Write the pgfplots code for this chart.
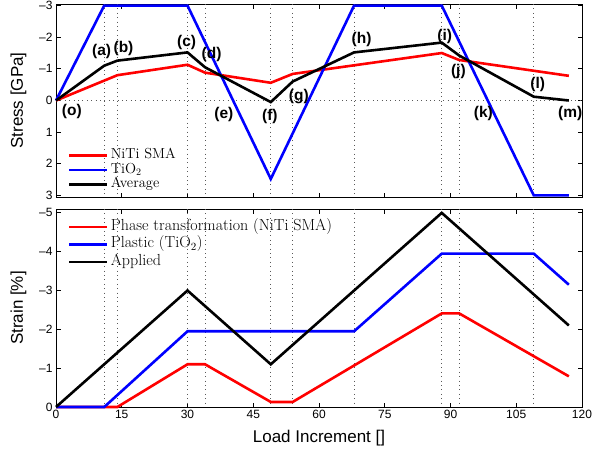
\documentclass[border=0pt]{standalone}
\usepackage{fontspec}
\usepackage{pgfplots}
\pgfplotsset{compat=1.18}
\newfontfamily\hel{Liberation Sans}
\newcommand{\tickfont}{\hel\fontsize{12}{12}\selectfont}
\newcommand{\labfont}{\hel\fontsize{17}{17}\selectfont}
\newcommand{\ptfont}{\hel\bfseries\fontsize{15.5}{15.5}\selectfont}
\pgfplotsset{
  mystyle/.style={
    scale only axis, width=526pt, xmin=0, xmax=120, y dir=reverse, clip=false,
    xtick={0,15,...,120},
    tick align=inside, major tick length=4.5pt,
    axis line style={line width=1pt},
    every tick/.style={black, line width=0.8pt},
    ticklabel style={font=\tickfont},
    extra x ticks={11,14,30,34,49,54,68,88,92,109},
    extra x tick labels={},
    extra x tick style={grid=major, major tick length=0pt},
    grid style={black!65, line width=0.8pt, dash pattern=on 0.8pt off 3.6pt},
    legend cell align=left,
    legend image code/.code={\draw[##1] (0pt,0pt) -- (38pt,0pt);},
    ylabel style={font=\labfont, at={(axis description cs:-0.0494,0.5)}, anchor=south},
  },
  pl/.style={line width=2.6pt, #1},
}
\begin{document}
\begin{tikzpicture}
\begin{axis}[mystyle, name=top, height=193pt,
  ymin=-3.05, ymax=3.05,
  xticklabels={},
  ytick={-3,-2,-1,0,1,2,3},
  yticklabels={–3,–2,–1,0,1,2,3},
  extra y ticks={0}, extra y tick labels={},
  extra y tick style={grid=major, major tick length=0pt},
  ylabel={Stress [GPa]},
  legend style={draw=none, fill=none, at={(axis description cs:0.0219,0.254)}, anchor=north west,
    font=\rmfamily\fontsize{14.5}{14.5}\selectfont, inner sep=0pt, row sep=0pt,
    nodes={inner xsep=2.5pt, inner ysep=0pt, text height=10.5pt, text depth=4pt}},
]
\addplot[pl=red] coordinates {(0,0)(14,-0.8)(30,-1.13)(34,-0.88)(49,-0.56)(54,-0.84)(88,-1.5)(92,-1.28)(117,-0.78)};
\addlegendentry{NiTi SMA}
\addplot[pl=blue] coordinates {(0,0)(11,-3)(30,-3)(49,2.48)(68,-3)(88,-3)(109,3)(117,3)};
\addlegendentry{TiO$_2$}
\addplot[pl=black] coordinates {(0,0)(11,-1.1)(14,-1.26)(30,-1.52)(34,-1.05)(49,0.05)(54,-0.6)(68,-1.52)(88,-1.83)(92,-1.42)(109,-0.12)(117,0)};
\addlegendentry{Average}
\node[font=\ptfont] at (axis cs:3.6,0.35) {(o)};
\node[font=\ptfont] at (axis cs:10.4,-1.55) {(a)};
\node[font=\ptfont] at (axis cs:15.4,-1.63) {(b)};
\node[font=\ptfont] at (axis cs:29.8,-1.82) {(c)};
\node[font=\ptfont] at (axis cs:35.5,-1.45) {(d)};
\node[font=\ptfont] at (axis cs:38.3,0.45) {(e)};
\node[font=\ptfont] at (axis cs:48.8,0.5) {(f)};
\node[font=\ptfont] at (axis cs:55.4,-0.12) {(g)};
\node[font=\ptfont] at (axis cs:69.7,-1.92) {(h)};
\node[font=\ptfont] at (axis cs:88.7,-2.03) {(i)};
\node[font=\ptfont] at (axis cs:91.8,-0.92) {(j)};
\node[font=\ptfont] at (axis cs:97.5,0.4) {(k)};
\node[font=\ptfont] at (axis cs:109.9,-0.5) {(l)};
\node[font=\ptfont] at (axis cs:117.3,0.4) {(m)};
\end{axis}
\begin{axis}[mystyle, name=bot, height=198pt,
  at={(top.south west)}, anchor=north west, yshift=-12pt,
  ymin=-5.1, ymax=0,
  xticklabels={0,15,30,45,60,75,90,105,120},
  ytick={-5,-4,-3,-2,-1,0},
  yticklabels={–5,–4,–3,–2,–1,0},
  ylabel={Strain [\%]},
  xlabel={Load Increment []},
  xlabel style={font=\labfont, at={(axis description cs:0.5,0)}, anchor=north, yshift=-20pt},
  legend style={draw=none, fill=none, at={(axis description cs:0.0219,0.955)}, anchor=north west,
    font=\rmfamily\fontsize{16}{16}\selectfont, inner sep=0pt, row sep=0pt,
    nodes={inner xsep=2.5pt, inner ysep=0pt, text height=12pt, text depth=5.5pt}},
]
\addplot[pl=red] coordinates {(0,0)(14,0)(30,-1.1)(34,-1.1)(49,-0.13)(54,-0.13)(88,-2.41)(92,-2.41)(117,-0.79)};
\addlegendentry{Phase transformation (NiTi SMA)}
\addplot[pl=blue] coordinates {(0,0)(11,0)(30,-1.95)(68,-1.95)(88,-3.95)(109,-3.95)(117,-3.15)};
\addlegendentry{Plastic (TiO$_2$)}
\addplot[pl=black] coordinates {(0,0)(30,-3)(49,-1.1)(88,-5)(117,-2.1)};
\addlegendentry{Applied}
\end{axis}
\pgfresetboundingbox
\useasboundingbox ([xshift=-56pt,yshift=4pt]top.north west) rectangle ([xshift=536pt,yshift=-449pt]top.north west);
\end{tikzpicture}
\end{document}
